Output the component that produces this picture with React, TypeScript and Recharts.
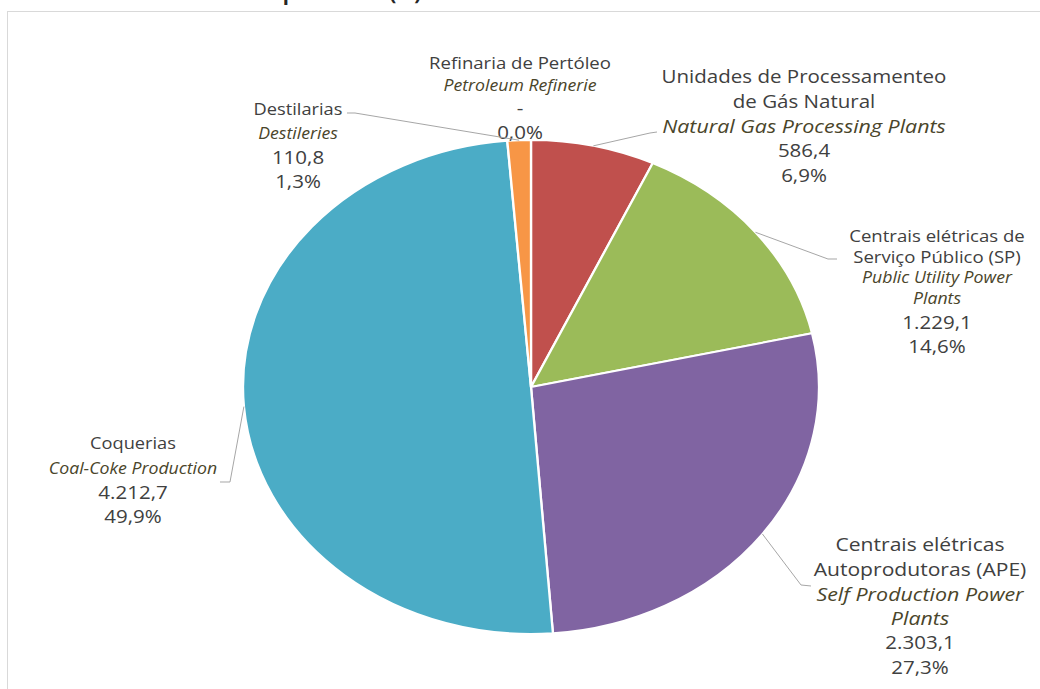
import React from "react";
import { PieChart, Pie, Cell } from "recharts";

// slices, clockwise from 12 o'clock
const NAMES_PT = [
    "Refinaria de Pertóleo",
    "Unidades de Processamenteo\nde Gás Natural",
    "Centrais elétricas de\nServiço Público (SP)",
    "Centrais elétricas\nAutoprodutoras (APE)",
    "Coquerias",
    "Destilarias",
];

const NAMES_EN = [
    "Petroleum Refinerie",
    "Natural Gas Processing Plants",
    "Public Utility Power\nPlants",
    "Self Production Power\nPlants",
    "Coal-Coke Production",
    "Destileries",
];

const VALUES = [0, 586.4, 1229.1, 2303.1, 4212.7, 110.8];

const COLORS = ["#4F81BD", "#C0504D", "#9BBB59", "#8064A2", "#4BACC6", "#F79646"];

const TITLE = "Consumo de carvão por sector (%)";

// the original picture is stretched horizontally
const SX = 288 / 247;
const TS = 1.14; // glyph stretch
const CHART_W = 1040 / SX;
const CHART_H = 689;

// label placement in page pixels
// x: centre, y: first line, lh: name line height, ng: gap before number lines
const LABEL_LAYOUT = [
    { x: 520, y: 62, lh: 22.6, ng: 23.5, pt: 16.3, en: 15.5, leader: null },
    { x: 804, y: 76, lh: 24.7, ng: 24.7, pt: 18, en: 18.8, leader: [[650, 133], [657, 132]] },
    { x: 937, y: 235, lh: 21, ng: 24.2, pt: 16.3, en: 15.5, leader: [[828, 259], [837, 259]] },
    { x: 920, y: 544, lh: 24.6, ng: 24.6, pt: 18.5, en: 18.8, leader: [[801, 585], [811, 586]] },
    { x: 133, y: 443, lh: 24.5, ng: 24.5, pt: 16, en: 15.5, leader: [[230, 482], [220, 482]] },
    { x: 298, y: 109, lh: 23.5, ng: 24.5, pt: 16, en: 15.5, leader: [[355, 113], [347, 113]] },
];

const NUM_SIZE = 18;
const TEXT = "#404040";
const TEXT_EN = "#4A452A";

const fmtValue = (v: number) => {
    if (v === 0) return "-";
    const [i, d] = v.toFixed(1).split(".");
    return i.replace(/\B(?=(\d{3})+(?!\d))/g, ".") + "," + d;
};

const fmtPct = (p: number) => (p * 100).toFixed(1).replace(".", ",") + "%";

const renderLabel = (props: any) => {
    const { cx, cy, midAngle, outerRadius, index, value, percent } = props;
    const L = LABEL_LAYOUT[index];
    const rad = Math.PI / 180;
    const px = (cx + outerRadius * Math.cos(-midAngle * rad)) * SX;
    const py = cy + outerRadius * Math.sin(-midAngle * rad);

    const lines: { t: string; italic: boolean; size: number; color: string; num: boolean }[] = [];
    NAMES_PT[index].split("\n").forEach((t) =>
        lines.push({ t, italic: false, size: L.pt, color: TEXT, num: false })
    );
    NAMES_EN[index].split("\n").forEach((t) =>
        lines.push({ t, italic: true, size: L.en, color: TEXT_EN, num: false })
    );
    lines.push({ t: fmtValue(value), italic: false, size: NUM_SIZE, color: TEXT, num: true });
    lines.push({ t: fmtPct(percent || 0), italic: false, size: NUM_SIZE, color: TEXT, num: true });

    let y = L.y;
    const ys = lines.map((ln, i) => {
        if (i > 0) y += ln.num ? L.ng : L.lh;
        return y;
    });

    const path = L.leader
        ? `M${px},${py}` + L.leader.map((p) => ` L${p[0]},${p[1]}`).join("")
        : null;

    return (
        <g transform={`scale(${1 / SX} 1)`} key={`lbl-${index}`}>
            {path && (
                <path d={path} fill="none" stroke="#A6A6A6" strokeWidth={1} />
            )}
            {lines.map((ln, i) => (
                <text
                    key={i}
                    x={0}
                    y={0}
                    transform={`translate(${L.x} ${ys[i]}) scale(${TS} 1)`}
                    textAnchor="middle"
                    dominantBaseline="central"
                    fontSize={ln.size}
                    fontStyle={ln.italic ? "italic" : "normal"}
                    fill={ln.color}
                >
                    {ln.t}
                </text>
            ))}
        </g>
    );
};

export default function App() {
    const data = NAMES_PT.map((name, i) => ({ name, value: VALUES[i] }));

    return (
        <div
            style={{
                position: "fixed",
                left: 0,
                top: 0,
                width: 1040,
                height: 689,
                overflow: "hidden",
                background: "#fff",
                fontFamily: "'Open Sans', sans-serif",
            }}
        >
            <svg
                width={1040}
                height={689}
                style={{ position: "absolute", left: 0, top: 0 }}
            >
                <rect x={7.5} y={11.5} width={1100} height={800} fill="none" stroke="#D9D9D9" />
                <text
                    x={421}
                    y={0}
                    textAnchor="end"
                    fontSize={20}
                    fontWeight="bold"
                    fill="#262626"
                >
                    {TITLE}
                </text>
            </svg>

            <div
                style={{
                    position: "absolute",
                    left: 0,
                    top: 0,
                    width: CHART_W,
                    height: CHART_H,
                    transform: `scaleX(${SX})`,
                    transformOrigin: "0 0",
                }}
            >
                <PieChart
                    width={CHART_W}
                    height={CHART_H}
                    margin={{ top: 0, right: 0, bottom: 0, left: 0 }}
                >
                    <Pie
                        data={data}
                        dataKey="value"
                        nameKey="name"
                        cx={531 / SX}
                        cy={387}
                        outerRadius={247}
                        startAngle={90}
                        endAngle={-270}
                        stroke="#fff"
                        strokeWidth={2}
                        label={renderLabel}
                        labelLine={false}
                        isAnimationActive={false}
                    >
                        {data.map((_, index) => (
                            <Cell key={index} fill={COLORS[index % COLORS.length]} />
                        ))}
                    </Pie>
                </PieChart>
            </div>
        </div>
    );
}
